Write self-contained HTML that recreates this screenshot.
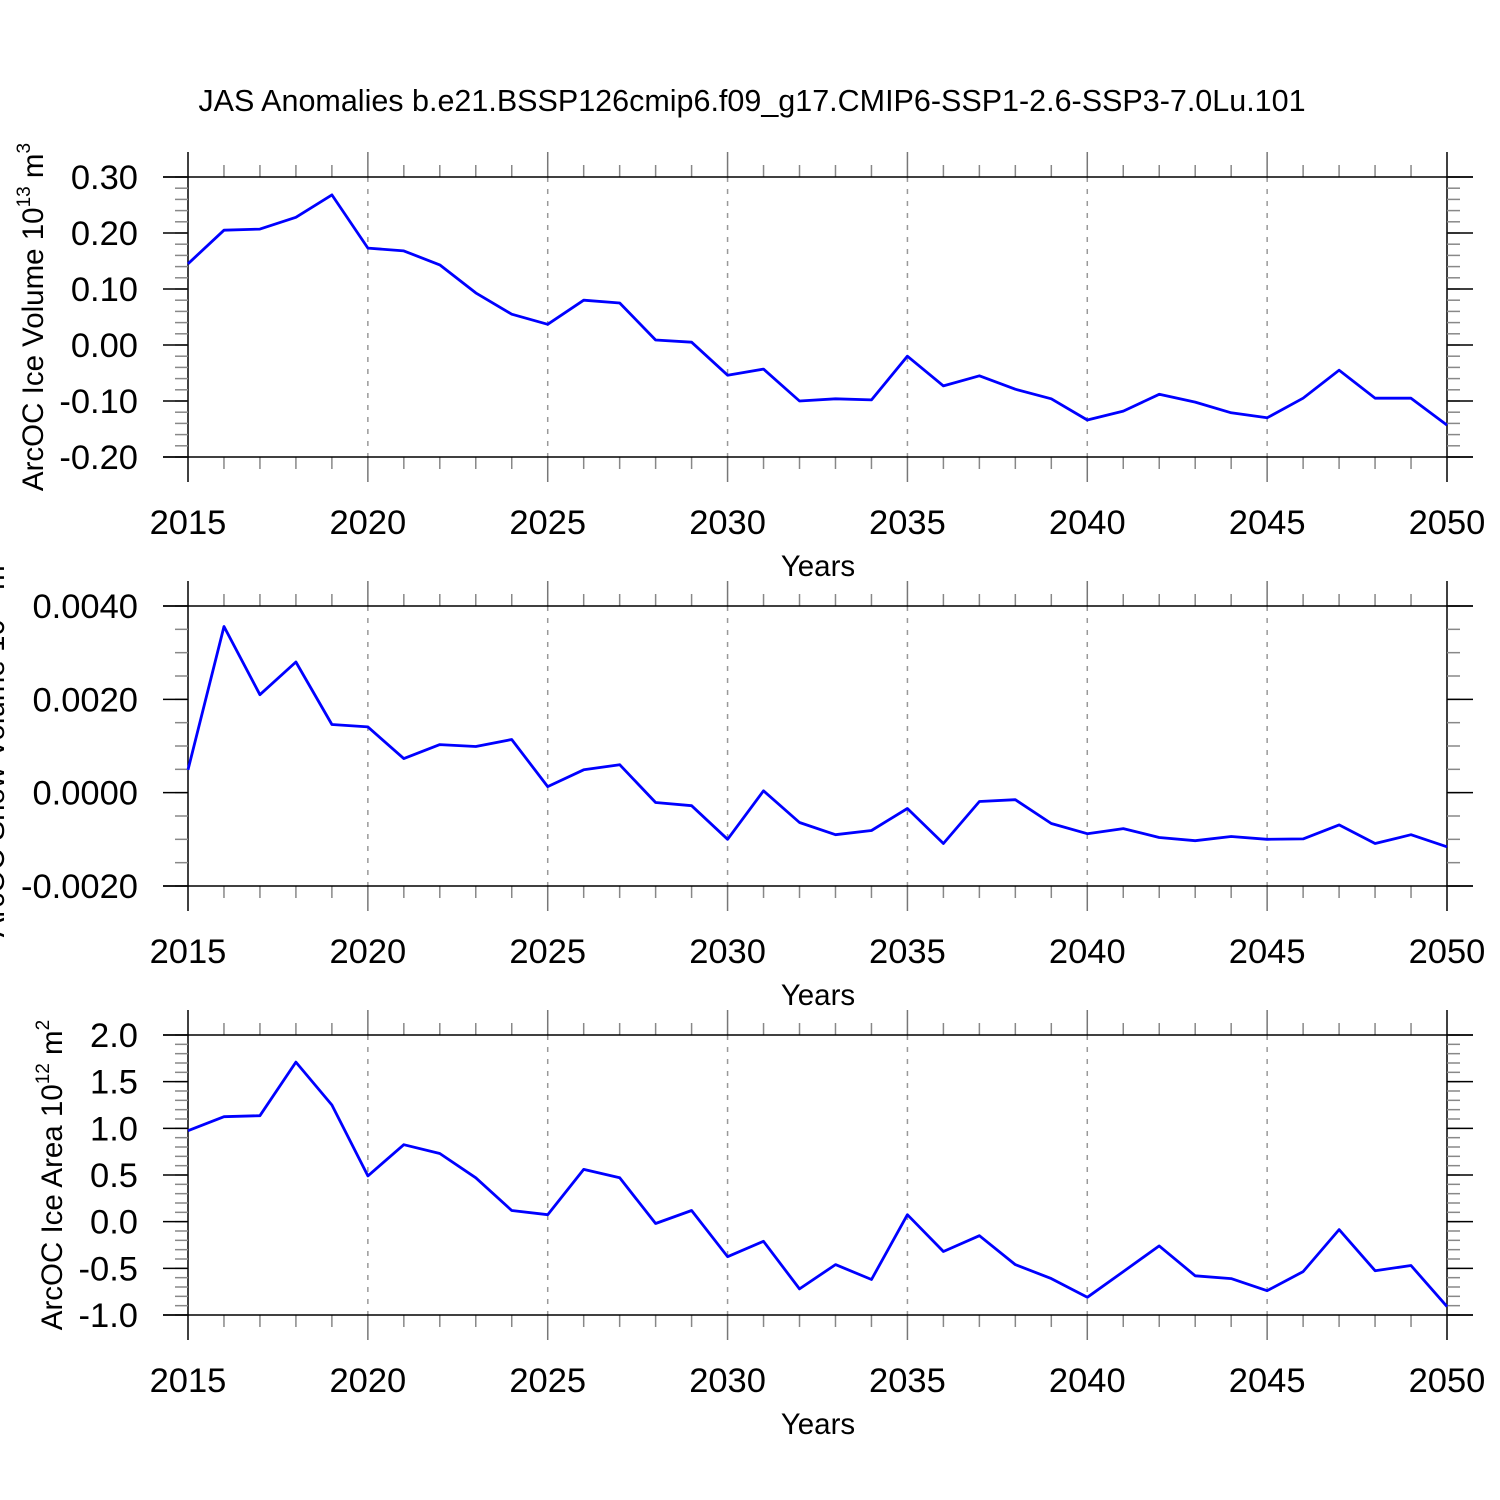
<!DOCTYPE html>
<html><head><meta charset="utf-8"><style>
body{margin:0;background:#fff}
svg{display:block;font-family:"Liberation Sans",sans-serif}
</style></head><body>
<svg id="chart" width="1500" height="1500" viewBox="0 0 1500 1500" xmlns="http://www.w3.org/2000/svg">
<rect width="1500" height="1500" fill="#fff"/>
<text x="752" y="111" font-size="30.5" text-anchor="middle">JAS Anomalies b.e21.BSSP126cmip6.f09_g17.CMIP6-SSP1-2.6-SSP3-7.0Lu.101</text>
</svg>
<script>
const years = [];
for (let y = 2015; y <= 2050; y++) years.push(y);
const xTickLabels = ["2015","2020","2025","2030","2035","2040","2045","2050"];
const iceVolume = [0.145,0.205,0.207,0.228,0.268,0.173,0.168,0.143,0.093,0.055,0.037,0.080,0.075,0.009,0.005,-0.054,-0.043,-0.100,-0.096,-0.098,-0.020,-0.073,-0.055,-0.079,-0.096,-0.134,-0.118,-0.088,-0.102,-0.121,-0.130,-0.095,-0.045,-0.095,-0.095,-0.143];
const snowVolume = [0.00049,0.00356,0.0021,0.0028,0.00146,0.00141,0.00073,0.00103,0.00099,0.00114,0.00013,0.00049,0.0006,-0.00021,-0.00028,-0.001,0.00004,-0.00064,-0.0009,-0.00081,-0.00034,-0.00109,-0.00019,-0.00015,-0.00066,-0.00088,-0.00077,-0.00096,-0.00103,-0.00094,-0.001,-0.00099,-0.00069,-0.00109,-0.0009,-0.00116];
const iceArea = [0.975,1.125,1.135,1.71,1.25,0.49,0.825,0.73,0.47,0.12,0.075,0.56,0.47,-0.02,0.12,-0.375,-0.21,-0.72,-0.46,-0.62,0.075,-0.32,-0.15,-0.46,-0.61,-0.81,-0.535,-0.26,-0.58,-0.61,-0.74,-0.535,-0.085,-0.525,-0.47,-0.91];
const volTicks = ["0.30","0.20","0.10","0.00","-0.10","-0.20"];
const snowTicks = ["0.0040","0.0020","0.0000","-0.0020"];
const areaTicks = ["2.0","1.5","1.0","0.5","0.0","-0.5","-1.0"];

const svg = document.getElementById('chart');
const NS = 'http://www.w3.org/2000/svg';
function mk(tag, attrs, parent){const e=document.createElementNS(NS,tag);for(const k in attrs)e.setAttribute(k,attrs[k]);(parent||svg).appendChild(e);return e;}
const X0=188, X1=1447;
function xs(yr){return X0+(yr-2015)/(35)*(X1-X0);}

function panel(name, top, ymin, ymax, ticks, minorStep, data, label, sup, unit, labelX){
  const bot = top+280;
  const g = mk('g',{});  
  const ys = v => bot - (v-ymin)/(ymax-ymin)*280;
  for (let yr=2020; yr<2050; yr+=5) mk('line',{x1:xs(yr),x2:xs(yr),y1:top,y2:bot,stroke:'#999','stroke-width':1.5,'stroke-dasharray':'5,7'},g);
  for (const yr of years){ if ((yr-2015)%5===0) continue; const x=xs(yr);
    mk('line',{x1:x,x2:x,y1:top-12,y2:top,stroke:'#888','stroke-width':1.5},g);
    mk('line',{x1:x,x2:x,y1:bot,y2:bot+12,stroke:'#888','stroke-width':1.5},g);}
  for (let yr=2015; yr<=2050; yr+=5){ const x=xs(yr);
    const c=(yr===2015||yr===2050)?'#000':'#777';
    if(yr===2015||yr===2050) mk('line',{x1:x,x2:x,y1:top-25,y2:bot+25,stroke:'#000','stroke-width':1.5},g);
    else { mk('line',{x1:x,x2:x,y1:top-25,y2:top,stroke:c,'stroke-width':1.5},g); mk('line',{x1:x,x2:x,y1:bot,y2:bot+25,stroke:c,'stroke-width':1.5},g);} }
  const nMin = Math.round((ymax-ymin)/minorStep);
  for (let i=0;i<=nMin;i++){ const y=bot-i/nMin*280;
    mk('line',{x1:X0-13,x2:X0,y1:y,y2:y,stroke:'#888','stroke-width':1.5},g);
    mk('line',{x1:X1,x2:X1+13,y1:y,y2:y,stroke:'#888','stroke-width':1.5},g);}
  ticks.forEach((t,i)=>{ const y=top+i*280/(ticks.length-1);
    mk('line',{x1:163,x2:1473,y1:y,y2:y,stroke:(i===0||i===ticks.length-1)?'#000':'none','stroke-width':1.5},g);
    mk('line',{x1:163,x2:X0,y1:y,y2:y,stroke:'#000','stroke-width':1.5},g);
    mk('line',{x1:X1,x2:1473,y1:y,y2:y,stroke:'#000','stroke-width':1.5},g);
    const tx=mk('text',{x:138,y:y+12,'font-size':34.5,'text-anchor':'end'},g); tx.textContent=t;
     });
  xTickLabels.forEach(t=>{ const tx=mk('text',{x:xs(+t),y:bot+77,'font-size':34.5,'text-anchor':'middle'},g); tx.textContent=t;
     });
  const xt=mk('text',{x:818,y:bot+119,'font-size':29.5,'text-anchor':'middle'},g); xt.textContent='Years';
   
  const yt=mk('text',{transform:`translate(${labelX},${top+140}) rotate(-90)`,'font-size':29.5,'text-anchor':'middle'},g);
   
  yt.innerHTML = label+' 10<tspan dy="-13" font-size="19">'+sup+'</tspan><tspan dy="13"> m</tspan><tspan dy="-13" font-size="19">'+unit+'</tspan>';
  const pts = data.map((v,i)=>xs(years[i]).toFixed(1)+','+ys(v).toFixed(1)).join(' ');
  const pl=mk('polyline',{points:pts,fill:'none',stroke:'#0000ff','stroke-width':2.8,'stroke-linejoin':'round'},g);
   
}
panel('ice-volume',177,-0.2,0.3,volTicks,0.02,iceVolume,'ArcOC Ice Volume','13','3',43);
panel('snow-volume',606,-0.002,0.004,snowTicks,0.0005,snowVolume,'ArcOC Snow Volume','13','3',4);
panel('ice-area',1035,-1.0,2.0,areaTicks,0.1,iceArea,'ArcOC Ice Area','12','2',62);
</script>
</body></html>
